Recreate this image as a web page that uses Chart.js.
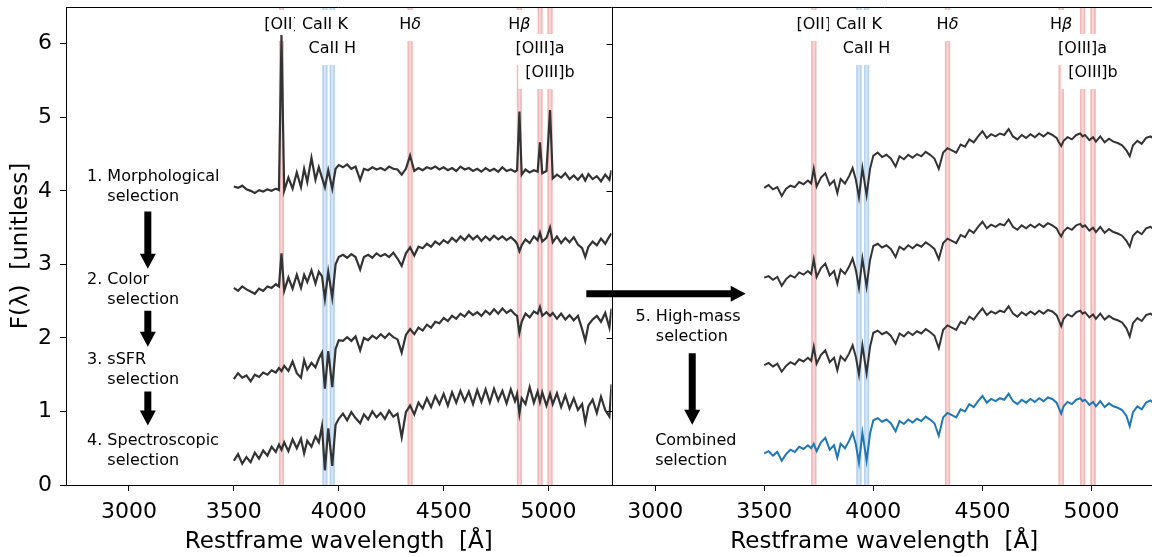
<!DOCTYPE html>
<html>
<head>
<meta charset="utf-8">
<script src="https://cdn.jsdelivr.net/npm/chart.js@4.4.0/dist/chart.umd.min.js"></script>
<style>
html, body { margin: 0; padding: 0; background: #fff; overflow: hidden; }
#wrap { width: 1158px; height: 557px; }
</style>
</head>
<body>
<div id="wrap"><canvas id="spectraChart"></canvas></div>
<script>
// restframe wavelength grid (Angstrom), shared by all spectra
const wave = [3500,3520,3540,3560,3580,3600,3620,3640,3660,3680,
  3700,3715,3727,3740,3760,3780,3800,3820,3835,3850,
  3870,3889,3905,3920,3934,3950,3969,3985,4000,4020,
  4040,4060,4080,4102,4120,4140,4160,4180,4200,4220,
  4240,4260,4280,4300,4320,4340,4360,4380,4400,4420,
  4440,4460,4480,4500,4520,4540,4560,4580,4600,4620,
  4640,4660,4680,4700,4720,4740,4760,4780,4800,4820,
  4840,4850,4861,4872,4890,4910,4930,4948,4959,4970,
  4990,5007,5020,5040,5060,5080,5100,5120,5140,5160,
  5175,5190,5210,5230,5250,5270,5290,5300];

// left panel: stacked spectra after each selection step
const morphological = [4.06,4.04,4.07,4.02,4.00,3.97,4.01,3.99,4.02,4.00,
  4.03,4.01,6.12,4.00,4.18,4.03,4.25,4.05,4.30,4.12,
  4.45,4.15,4.32,4.18,4.05,4.28,4.03,4.30,4.35,4.32,
  4.36,4.30,4.33,4.15,4.30,4.28,4.32,4.29,4.31,4.28,
  4.33,4.30,4.29,4.22,4.30,4.48,4.27,4.31,4.28,4.32,
  4.30,4.33,4.29,4.32,4.28,4.31,4.27,4.33,4.29,4.31,
  4.27,4.30,4.26,4.31,4.27,4.30,4.26,4.32,4.27,4.29,
  4.26,4.28,5.08,4.22,4.29,4.25,4.28,4.26,4.66,4.24,
  4.27,5.10,4.17,4.22,4.18,4.24,4.16,4.21,4.15,4.22,
  4.14,4.23,4.16,4.20,4.13,4.22,4.15,4.28];
const color = [2.68,2.64,2.70,2.66,2.63,2.60,2.67,2.64,2.70,2.68,
  2.73,2.70,3.15,2.64,2.82,2.67,2.86,2.68,2.86,2.76,
  2.92,2.74,2.90,2.84,2.53,2.90,2.55,3.00,3.10,3.13,
  3.09,3.14,3.10,2.93,3.10,3.13,3.09,3.15,3.11,3.14,
  3.10,3.16,3.08,2.98,3.15,3.23,3.12,3.24,3.22,3.28,
  3.24,3.31,3.27,3.33,3.29,3.36,3.31,3.38,3.33,3.40,
  3.34,3.39,3.32,3.38,3.33,3.39,3.34,3.38,3.33,3.37,
  3.32,3.28,3.18,3.26,3.34,3.29,3.38,3.33,3.43,3.31,
  3.36,3.50,3.30,3.38,3.29,3.36,3.30,3.37,3.27,3.22,
  3.10,3.24,3.31,3.26,3.35,3.28,3.38,3.42];
const ssfr = [1.44,1.52,1.46,1.49,1.41,1.50,1.47,1.53,1.50,1.56,
  1.53,1.59,1.55,1.62,1.55,1.68,1.52,1.46,1.70,1.57,
  1.66,1.60,1.72,1.80,1.31,1.82,1.33,1.85,1.97,1.96,
  2.01,1.96,2.02,1.83,2.00,1.97,2.03,1.99,2.05,2.00,
  2.06,2.01,1.98,1.80,2.04,2.12,2.05,2.14,2.10,2.18,
  2.14,2.22,2.20,2.27,2.23,2.30,2.26,2.33,2.29,2.36,
  2.31,2.35,2.30,2.37,2.32,2.39,2.33,2.40,2.34,2.38,
  2.32,2.30,2.07,2.22,2.33,2.28,2.36,2.33,2.42,2.30,
  2.35,2.30,2.34,2.26,2.33,2.25,2.31,2.24,2.30,2.12,
  1.96,2.18,2.25,2.30,2.22,2.34,2.14,2.40];
const spectroscopic = [0.33,0.42,0.29,0.38,0.31,0.44,0.36,0.47,0.40,0.52,
  0.45,0.55,0.48,0.58,0.46,0.62,0.50,0.63,0.43,0.60,
  0.52,0.66,0.58,0.80,0.20,0.77,0.26,0.82,0.90,0.97,
  0.88,0.99,0.91,0.84,0.96,0.89,1.00,0.92,0.98,0.90,
  1.01,0.93,0.97,0.65,0.99,1.08,0.96,1.12,1.04,1.18,
  1.06,1.21,1.10,1.24,1.08,1.26,1.12,1.28,1.14,1.27,
  1.10,1.29,1.13,1.30,1.12,1.31,1.15,1.28,1.11,1.30,
  1.14,1.24,0.97,1.18,1.10,1.33,1.12,1.27,1.13,1.26,
  1.08,1.24,1.10,1.25,1.06,1.22,1.04,1.18,1.02,1.10,
  0.85,1.07,1.16,0.98,1.20,1.02,0.93,1.37];

// right panel: high-mass selection and the combined sample
const highMassA = [4.04,4.08,4.02,4.05,3.93,4.03,4.07,4.05,4.12,4.09,
  4.14,4.10,4.30,4.06,4.18,4.24,4.08,4.14,3.97,4.16,
  4.10,4.20,4.31,4.15,3.91,4.31,3.94,4.30,4.48,4.52,
  4.46,4.49,4.44,4.33,4.47,4.43,4.49,4.45,4.50,4.47,
  4.53,4.49,4.44,4.30,4.52,4.58,4.55,4.52,4.63,4.60,
  4.70,4.66,4.74,4.81,4.72,4.77,4.74,4.78,4.76,4.84,
  4.74,4.70,4.76,4.72,4.77,4.73,4.78,4.74,4.79,4.76,
  4.72,4.66,4.61,4.68,4.73,4.70,4.76,4.78,4.74,4.76,
  4.69,4.73,4.67,4.74,4.66,4.71,4.67,4.65,4.62,4.55,
  4.47,4.62,4.68,4.64,4.72,4.74,4.70,4.78];
const highMassB = [2.82,2.84,2.79,2.83,2.71,2.80,2.85,2.82,2.89,2.86,
  2.91,2.87,3.07,2.83,2.95,3.01,2.85,2.91,2.74,2.93,
  2.87,2.97,3.08,2.92,2.68,3.08,2.70,3.06,3.25,3.28,
  3.23,3.26,3.21,3.10,3.24,3.20,3.26,3.22,3.27,3.24,
  3.30,3.26,3.21,3.07,3.29,3.35,3.32,3.29,3.40,3.37,
  3.47,3.43,3.51,3.58,3.49,3.54,3.51,3.55,3.53,3.61,
  3.51,3.47,3.53,3.49,3.54,3.50,3.55,3.51,3.56,3.53,
  3.49,3.43,3.38,3.45,3.50,3.47,3.53,3.55,3.51,3.53,
  3.46,3.50,3.44,3.51,3.43,3.48,3.44,3.42,3.39,3.32,
  3.24,3.39,3.45,3.41,3.49,3.51,3.47,3.55];
const highMassC = [1.63,1.66,1.61,1.65,1.54,1.62,1.67,1.64,1.71,1.68,
  1.73,1.69,1.88,1.65,1.77,1.83,1.67,1.73,1.56,1.75,
  1.69,1.79,1.90,1.74,1.50,1.90,1.52,1.88,2.07,2.10,
  2.05,2.08,2.03,1.92,2.06,2.02,2.08,2.04,2.09,2.06,
  2.12,2.08,2.03,1.86,2.11,2.17,2.14,2.11,2.22,2.19,
  2.29,2.25,2.33,2.40,2.31,2.36,2.33,2.37,2.35,2.43,
  2.33,2.29,2.35,2.31,2.36,2.32,2.37,2.33,2.38,2.36,
  2.31,2.24,2.16,2.26,2.32,2.29,2.35,2.37,2.33,2.35,
  2.28,2.32,2.26,2.33,2.25,2.30,2.26,2.24,2.21,2.13,
  2.02,2.20,2.27,2.23,2.31,2.33,2.29,2.37];
const combined = [0.43,0.46,0.40,0.45,0.33,0.42,0.48,0.45,0.52,0.49,
  0.54,0.50,0.56,0.46,0.58,0.64,0.48,0.54,0.37,0.56,
  0.50,0.60,0.71,0.55,0.30,0.71,0.33,0.70,0.88,0.91,
  0.86,0.89,0.84,0.73,0.87,0.83,0.89,0.85,0.90,0.87,
  0.93,0.89,0.84,0.67,0.92,0.98,0.95,0.92,1.03,1.00,
  1.10,1.06,1.14,1.21,1.12,1.17,1.14,1.18,1.16,1.24,
  1.14,1.10,1.16,1.12,1.17,1.13,1.18,1.14,1.19,1.17,
  1.12,1.05,0.97,1.07,1.13,1.10,1.16,1.18,1.14,1.16,
  1.09,1.13,1.07,1.14,1.06,1.11,1.07,1.05,1.02,0.94,
  0.80,0.99,1.07,1.03,1.12,1.15,1.10,1.19];

// spectral lines marked in both panels
const lineNames = ['[OII]', 'CaII K', 'CaII H', 'Hδ', 'Hβ', '[OIII]a', '[OIII]b'];
const lineWaves = [3727, 3934, 3969, 4340, 4861, 4959, 5007];
const lineRows = [0, 0, 1, 0, 0, 1, 2];
const lineKinds = ['em', 'abs', 'abs', 'em', 'em', 'em', 'em'];

// tick labels
const xTicks = [3000, 3500, 4000, 4500, 5000];
const yTicks = [0, 1, 2, 3, 4, 5, 6];

const FONT = '"DejaVu Sans"';
Chart.defaults.font.family = FONT;
Chart.defaults.color = '#000';

function toPoints(values) {
  return values.map((v, k) => ({x: wave[k], y: v}));
}

const grey = '#333333';
const datasets = [
  {data: toPoints(morphological), xAxisID: 'x', borderColor: grey, borderWidth: 2.2},
  {data: toPoints(color), xAxisID: 'x', borderColor: grey, borderWidth: 2.2},
  {data: toPoints(ssfr), xAxisID: 'x', borderColor: grey, borderWidth: 2.2},
  {data: toPoints(spectroscopic), xAxisID: 'x', borderColor: grey, borderWidth: 2.2},
  {data: toPoints(highMassA), xAxisID: 'x2', borderColor: grey},
  {data: toPoints(highMassB), xAxisID: 'x2', borderColor: grey},
  {data: toPoints(highMassC), xAxisID: 'x2', borderColor: grey},
  {data: toPoints(combined), xAxisID: 'x2', borderColor: '#1f77b4'}
].map(d => Object.assign({yAxisID: 'y', borderWidth: 2, pointRadius: 0, tension: 0, fill: false}, d));

function wavelengthAxis(min) {
  return {
    type: 'linear', position: 'bottom', stack: 'panels', stackWeight: 1,
    min: min, max: 5300,
    afterBuildTicks: s => { s.ticks = xTicks.map(v => ({value: v})); },
    afterFit: s => { s.height = 72; s.paddingLeft = 0; s.paddingRight = 0; },
    grid: {drawOnChartArea: false, drawTicks: true, tickLength: 6, color: '#000'},
    border: {display: true, color: '#000', width: 1},
    ticks: {font: {size: 22}, color: '#000', padding: 8, maxRotation: 0, autoSkip: false, callback: v => String(v)},
    title: {display: true, text: 'Restframe wavelength  [Å]', font: {size: 23}, color: '#000', padding: {top: 0, bottom: 1}}
  };
}

// draws "Hδ"-style labels with the greek letter in italics
function mixedWidth(ctx, s, size) {
  let w = 0;
  for (const ch of s) {
    ctx.font = ('αβγδλ'.includes(ch) ? 'italic ' : '') + size + 'px ' + FONT;
    w += ctx.measureText(ch).width;
  }
  return w;
}
function drawMixed(ctx, s, x, y, size) {
  for (const ch of s) {
    ctx.font = ('αβγδλ'.includes(ch) ? 'italic ' : '') + size + 'px ' + FONT;
    ctx.fillText(ch, x, y);
    x += ctx.measureText(ch).width;
  }
}

function arrow(ctx, x0, y0, x1, y1) {
  const shaft = 3.5, head = 8, headLen = 15;
  const len = Math.hypot(x1 - x0, y1 - y0);
  ctx.save();
  ctx.translate(x0, y0);
  ctx.rotate(Math.atan2(y1 - y0, x1 - x0));
  ctx.beginPath();
  ctx.moveTo(0, -shaft);
  ctx.lineTo(len - headLen, -shaft);
  ctx.lineTo(len - headLen, -head);
  ctx.lineTo(len, 0);
  ctx.lineTo(len - headLen, head);
  ctx.lineTo(len - headLen, shaft);
  ctx.lineTo(0, shaft);
  ctx.closePath();
  ctx.fillStyle = '#000';
  ctx.fill();
  ctx.restore();
}

function twoLines(ctx, lines, x, yMid, indent) {
  ctx.font = '16px ' + FONT;
  ctx.fillStyle = '#000';
  ctx.textBaseline = 'middle';
  ctx.textAlign = 'left';
  ctx.fillText(lines[0], x, yMid - 10);
  ctx.fillText(lines[1], x + indent, yMid + 10);
}

const decorations = {
  id: 'decorations',
  beforeDatasetsDraw(chart) {
    const {ctx, chartArea} = chart;
    const top = chartArea.top, bottom = chartArea.bottom;
    [chart.scales.x, chart.scales.x2].forEach(xs => {
      ctx.save();
      ctx.beginPath();
      ctx.rect(xs.left, top, xs.right - xs.left, bottom - top);
      ctx.clip();
      lineWaves.forEach((w, k) => {
        const a = xs.getPixelForValue(w - 12);
        const b = xs.getPixelForValue(w + 12);
        const abs = lineKinds[k] === 'abs';
        ctx.fillStyle = abs ? '#d6e6f4' : '#f8d6d6';
        ctx.fillRect(a, top, b - a, bottom - top);
        ctx.strokeStyle = abs ? '#b8d3ec' : '#f1b9b9';
        ctx.lineWidth = 1.6;
        ctx.beginPath();
        ctx.moveTo(a + 0.8, top); ctx.lineTo(a + 0.8, bottom);
        ctx.moveTo(b - 0.8, top); ctx.lineTo(b - 0.8, bottom);
        ctx.stroke();
      });
      ctx.textBaseline = 'middle';
      ctx.textAlign = 'left';
      lineNames.forEach((name, k) => {
        const cx = xs.getPixelForValue(lineWaves[k]);
        const cy = top + 18 + lineRows[k] * 24;
        const w = mixedWidth(ctx, name, 16);
        ctx.fillStyle = '#fff';
        ctx.fillRect(cx - w / 2 - 7, cy - 15, w + 14, 31);
        ctx.fillStyle = '#000';
        drawMixed(ctx, name, cx - w / 2, cy, 16);
      });
      ctx.restore();
    });
  },
  afterDatasetsDraw(chart) {
    const {ctx, chartArea} = chart;
    const x = chart.scales.x, x2 = chart.scales.x2, y = chart.scales.y;
    ctx.save();
    // frame: top spine and the border between the panels
    ctx.strokeStyle = '#000';
    ctx.lineWidth = 1;
    const mid = Math.round(x.right) + 0.5;
    ctx.beginPath();
    ctx.moveTo(chartArea.left, chartArea.top + 0.5);
    ctx.lineTo(chartArea.right, chartArea.top + 0.5);
    ctx.moveTo(mid, chartArea.top);
    ctx.lineTo(mid, chartArea.bottom);
    ctx.moveTo(chartArea.right - 0.5, chartArea.top);
    ctx.lineTo(chartArea.right - 0.5, chartArea.bottom);
    yTicks.forEach(v => {
      const py = Math.round(y.getPixelForValue(v)) + 0.5;
      ctx.moveTo(mid - 6, py);
      ctx.lineTo(mid, py);
    });
    ctx.stroke();

    // selection steps, left panel
    const steps = [['1. Morphological', 'selection'], ['2. Color', 'selection'],
      ['3. sSFR', 'selection'], ['4. Spectroscopic', 'selection']];
    const stepMid = [4.05, 2.66, 1.565, 0.46];
    ctx.font = '16px ' + FONT;
    const indent = ctx.measureText('1. ').width;
    steps.forEach((lines, k) => {
      twoLines(ctx, lines, x.getPixelForValue(2800), y.getPixelForValue(stepMid[k]), indent);
    });
    [[3.72, 2.94], [2.37, 1.88], [1.27, 0.81]].forEach(([a, b]) => {
      const px = x.getPixelForValue(3090);
      arrow(ctx, px, y.getPixelForValue(a), px, y.getPixelForValue(b));
    });

    // step 5 and the combined sample, right panel
    arrow(ctx, x.getPixelForValue(5180), y.getPixelForValue(2.6), x2.getPixelForValue(3415), y.getPixelForValue(2.6));
    twoLines(ctx, ['5. High-mass', 'selection'], x2.getPixelForValue(2910), y.getPixelForValue(2.15), indent);
    const ax = x2.getPixelForValue(3170);
    arrow(ctx, ax, y.getPixelForValue(1.79), ax, y.getPixelForValue(0.82));
    twoLines(ctx, ['Combined', 'selection'], x2.getPixelForValue(3000), y.getPixelForValue(0.465), 0);
    ctx.restore();
  }
};

new Chart(document.getElementById('spectraChart'), {
  type: 'line',
  data: {datasets: datasets},
  options: {
    responsive: true,
    maintainAspectRatio: false,
    animation: false,
    events: [],
    layout: {padding: {top: 7, right: 1, left: 0, bottom: 0}},
    plugins: {legend: {display: false}, tooltip: {enabled: false}},
    scales: {
      x: wavelengthAxis(2700),
      x2: wavelengthAxis(2800),
      y: {
        type: 'linear', position: 'left', min: 0, max: 6.5,
        afterBuildTicks: s => { s.ticks = yTicks.map(v => ({value: v})); },
        afterFit: s => { s.width = 66; s.paddingTop = 0; s.paddingBottom = 0; },
        grid: {drawOnChartArea: false, drawTicks: true, tickLength: 6, color: '#000'},
        border: {display: true, color: '#000', width: 1},
        ticks: {font: {size: 22}, color: '#000', padding: 8, callback: v => String(v)},
        title: {display: true, text: 'F(λ)  [unitless]', font: {size: 23}, color: '#000', padding: {top: 7, bottom: 0}}
      }
    }
  },
  plugins: [decorations]
});
</script>
</body>
</html>
